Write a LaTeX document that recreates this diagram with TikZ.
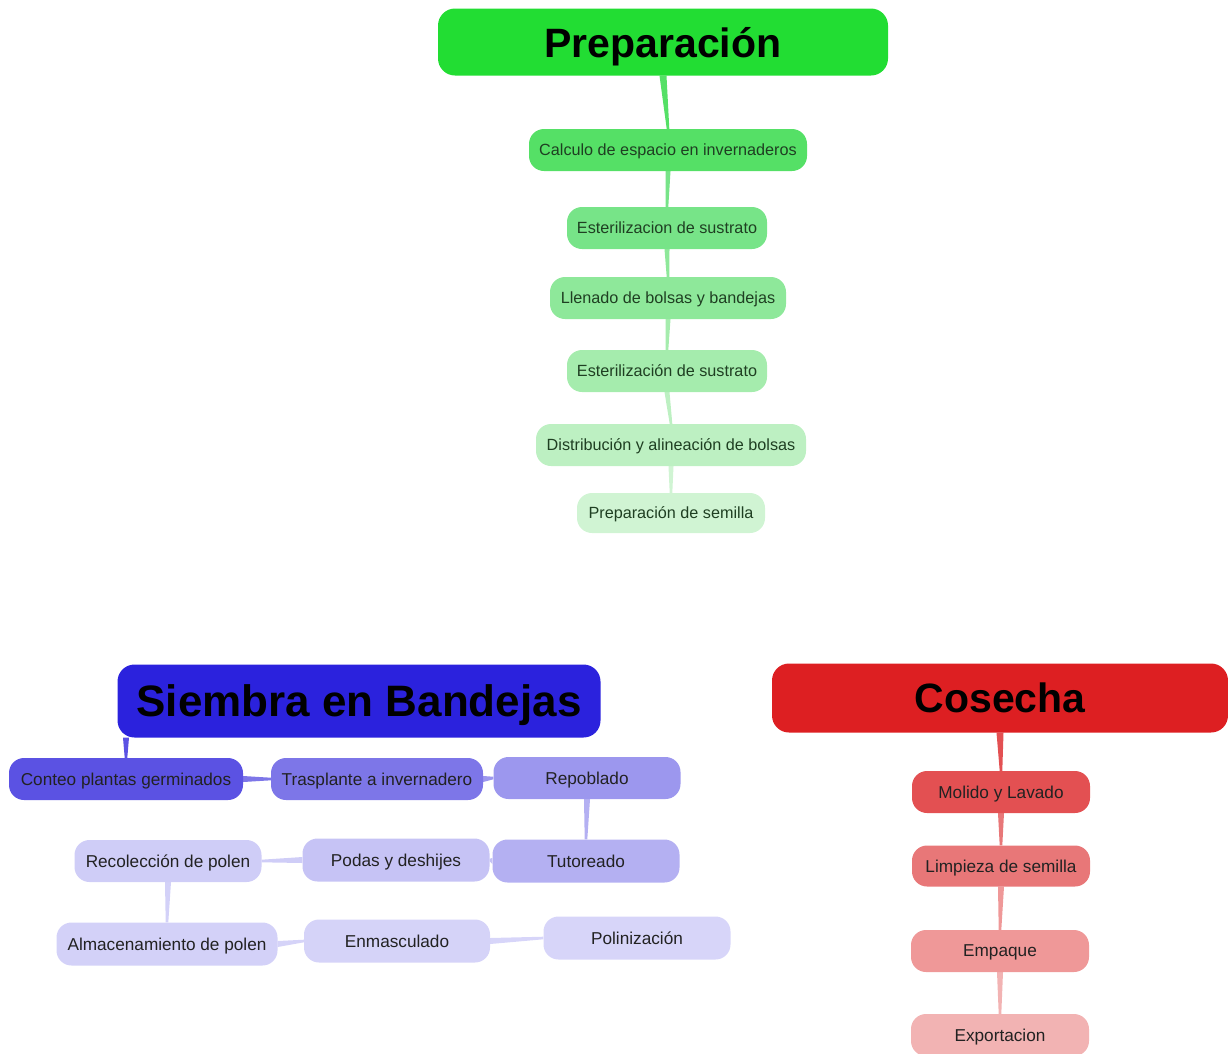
\documentclass[tikz,border=0pt]{standalone}
\usepackage{fontspec}
\setmainfont{Liberation Sans}
\usetikzlibrary{calc}
\definecolor{gT}{HTML}{22DD33}
\definecolor{g1}{HTML}{55E066}
\definecolor{g2}{HTML}{77E488}
\definecolor{g3}{HTML}{8EE89A}
\definecolor{g4}{HTML}{A5ECAD}
\definecolor{g5}{HTML}{BDF0C2}
\definecolor{g6}{HTML}{D0F4D3}
\definecolor{gtxt}{HTML}{1F3F22}
\definecolor{bT}{HTML}{2B22DD}
\definecolor{b1}{HTML}{5B52E3}
\definecolor{b2}{HTML}{7D76E8}
\definecolor{b3}{HTML}{9C97EE}
\definecolor{b4}{HTML}{B4B0F2}
\definecolor{b5}{HTML}{C6C3F5}
\definecolor{b6}{HTML}{CFCDF7}
\definecolor{b7}{HTML}{D3D1F8}
\definecolor{b8}{HTML}{D5D3F8}
\definecolor{b9}{HTML}{D7D5F9}
\definecolor{rT}{HTML}{DD1F22}
\definecolor{r1}{HTML}{E35052}
\definecolor{r2}{HTML}{E87778}
\definecolor{r3}{HTML}{EF9898}
\definecolor{r4}{HTML}{F2B3B3}
\definecolor{dtxt}{HTML}{222222}
\pgfdeclarelayer{background}
\pgfsetlayers{background,main}
\newcommand\tapv[4]{\fill[#3] ($(#1)+(-#4,0)$) -- ($(#1)+(#4,0)$) -- ($(#2)+(1.3,0)$) -- ($(#2)+(-1.3,0)$) -- cycle;}
\newcommand\taph[4]{\fill[#3] ($(#1)+(0,-#4)$) -- ($(#1)+(0,#4)$) -- ($(#2)+(0,1.3)$) -- ($(#2)+(0,-1.3)$) -- cycle;}
\begin{document}
\begin{tikzpicture}[x=1pt,y=-1pt,
  title/.style={rounded corners=17pt, inner sep=0pt, text depth=0pt, text=black, font=\bfseries\fontsize{41}{45}\selectfont},
  sub/.style={rounded corners=15pt, inner sep=0pt, text depth=0pt, minimum height=42pt, text=dtxt, font=\fontsize{17.2}{19}\selectfont},
  gsub/.style={sub, text=gtxt, font=\fontsize{16.2}{18}\selectfont}]
\useasboundingbox (0,0) rectangle (1228,1053);
% Preparacion
\node[title, fill=gT, minimum width=450pt, minimum height=67pt] (prep) at (663,42) {Preparación};
\node[gsub, fill=g1, minimum width=278pt] (calc) at (668,150) {Calculo de espacio en invernaderos};
\node[gsub, fill=g2, minimum width=200pt] (este1) at (667,228) {Esterilizacion de sustrato};
\node[gsub, fill=g3, minimum width=236pt] (llen) at (668,298) {Llenado de bolsas y bandejas};
\node[gsub, fill=g4, minimum width=200pt] (este2) at (667,371) {Esterilización de sustrato};
\node[gsub, fill=g5, minimum width=270pt] (dist) at (671,445) {Distribución y alineación de bolsas};
\node[gsub, fill=g6, minimum width=188pt, minimum height=40pt] (sem) at (671,513) {Preparación de semilla};
% Siembra
\node[title, fill=bT, minimum width=483pt, minimum height=73pt, font=\bfseries\fontsize{44}{48}\selectfont] (siem) at (359,701) {Siembra en Bandejas};
\node[sub, fill=b1, minimum width=234pt] (cont) at (126,779) {Conteo plantas germinados};
\node[sub, fill=b2, minimum width=212pt] (tras) at (377,779) {Trasplante a invernadero};
\node[sub, fill=b3, minimum width=187pt] (repo) at (587,778) {Repoblado};
\node[sub, fill=b4, minimum width=187pt, minimum height=43pt] (tuto) at (586,861) {Tutoreado};
\node[sub, fill=b5, minimum width=187pt, minimum height=43pt] (poda) at (396,860) {Podas y deshijes};
\node[sub, fill=b6, minimum width=187pt] (reco) at (168,861) {Recolección de polen};
\node[sub, fill=b7, minimum width=221pt, minimum height=43pt] (alma) at (167,944) {Almacenamiento de polen};
\node[sub, fill=b8, minimum width=186pt, minimum height=43pt] (enma) at (397,941) {Enmasculado};
\node[sub, fill=b9, minimum width=187pt, minimum height=43pt] (poli) at (637,938) {Polinización};
% Cosecha
\node[title, fill=rT, minimum width=456pt, minimum height=69pt] (cose) at (1000,698) {Cosecha};
\node[sub, fill=r1, minimum width=178pt] (moli) at (1001,792) {Molido y Lavado};
\node[sub, fill=r2, minimum width=178pt, minimum height=41pt] (limp) at (1001,866) {Limpieza de semilla};
\node[sub, fill=r3, minimum width=178pt] (empa) at (1000,951) {Empaque};
\node[sub, fill=r4, minimum width=178pt] (expo) at (1000,1035) {Exportacion};
\begin{pgfonlayer}{background}
\tapv{prep.south}{calc.north}{g1}{3.5}
\tapv{calc.south}{este1.north}{g2}{2.5}
\tapv{este1.south}{llen.north}{g3}{2.5}
\tapv{llen.south}{este2.north}{g4}{2.5}
\tapv{este2.south}{dist.north}{g5}{2.5}
\tapv{dist.south}{sem.north}{g6}{2.5}
\tapv{cont.north |- siem.south}{cont.north}{b1}{3}
\taph{cont.east}{tras.west}{b2}{3}
\taph{tras.east}{repo.west}{b3}{3}
\tapv{repo.south}{tuto.north}{b4}{3}
\taph{tuto.west}{poda.east}{b5}{3}
\taph{poda.west}{reco.east}{b6}{3}
\tapv{reco.south}{alma.north}{b7}{3}
\taph{alma.east}{enma.west}{b8}{3}
\taph{enma.east}{poli.west}{b9}{3}
\tapv{cose.south}{moli.north}{r1}{3.5}
\tapv{moli.south}{limp.north}{r2}{3}
\tapv{limp.south}{empa.north}{r3}{3}
\tapv{empa.south}{expo.north}{r4}{3}
\end{pgfonlayer}
\end{tikzpicture}
\end{document}
